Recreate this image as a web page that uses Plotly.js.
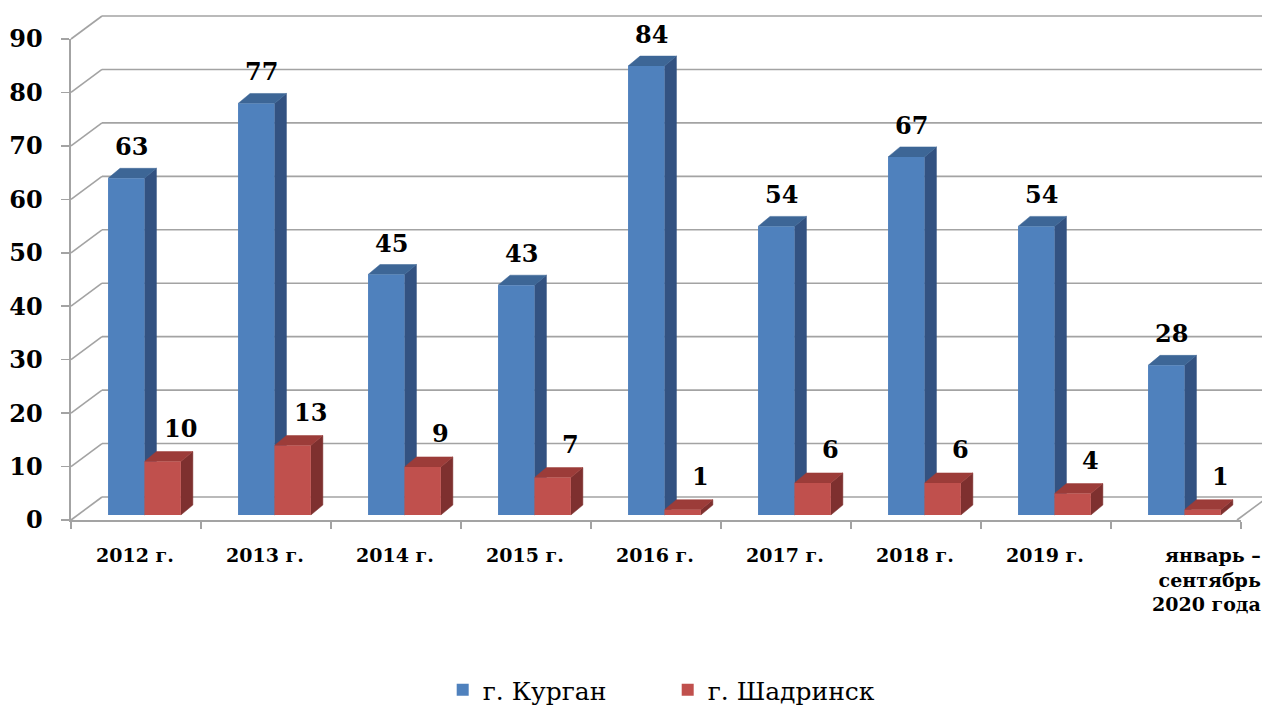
<!DOCTYPE html>
<html>
<head>
<meta charset="utf-8">
<script src="https://cdn.plot.ly/plotly-3.0.1.min.js"></script>
<style>html,body{margin:0;padding:0;background:#fff;}#chart{width:1262px;height:706px;}</style>
</head>
<body>
<div id="chart"></div>
<script>
// ---- data ----
const categories = ['2012 г.', '2013 г.', '2014 г.', '2015 г.', '2016 г.', '2017 г.', '2018 г.', '2019 г.', 'январь –<br>сентябрь<br>2020 года'];
const kurgan = [63, 77, 45, 43, 84, 54, 67, 54, 28];
const shadrinsk = [10, 13, 9, 7, 1, 6, 6, 4, 1];
const seriesNames = ['г. Курган', 'г. Шадринск'];
const yTickValues = [0, 10, 20, 30, 40, 50, 60, 70, 80, 90];

// ---- geometry / style ----
const W = 1262, H = 706;
const mL = 71, mR = 21, mT = 39, mB = 186;
const plotW = W - mL - mR, plotH = H - mT - mB;
const nCat = categories.length;
const pxPerCat = plotW / nCat;
const yMax = 90;
const pxPerUnit = plotH / yMax;

const barW = 0.28;
const blueOff = -0.215, redOff = blueOff + barW;
const barBase = 5 / pxPerUnit;          // bars sit slightly behind the front edge
const dX = 12 / pxPerCat, dY = 10 / pxPerUnit;   // bar depth
const wallDX = 31 / plotW, wallDY = 23 / plotH;  // wall depth (paper units)

const colors = {
  blue: {front: '#4F81BD', side: '#335281', top: '#3D6696'},
  red: {front: '#C0504D', side: '#7E302F', top: '#9C3C39'}
};
const gridColor = '#A3A3A3';
const serif = 'DejaVu Serif';

const xIdx = categories.map((c, i) => i);

function barTrace(vals, name, off, col) {
  return {
    type: 'bar', name: name, x: xIdx, y: vals,
    base: vals.map(() => barBase),
    offset: off, width: barW,
    marker: {color: col.front, line: {width: 0}},
    hoverinfo: 'y+name'
  };
}

const traces = [
  barTrace(kurgan, seriesNames[0], blueOff, colors.blue),
  barTrace(shadrinsk, seriesNames[1], redOff, colors.red)
];

const shapes = [];
// back wall gridlines, left wall diagonals, floor edge
yTickValues.forEach(t => {
  const yp = t / yMax;
  shapes.push({type: 'line', xref: 'paper', yref: 'paper', layer: 'below',
    x0: 0, y0: yp, x1: wallDX, y1: yp + wallDY, line: {color: gridColor, width: 1.6}});
  shapes.push({type: 'line', xref: 'paper', yref: 'paper', layer: 'below',
    x0: wallDX, y0: yp + wallDY, x1: (W - mL) / plotW, y1: yp + wallDY, line: {color: gridColor, width: 1.6}});
});
shapes.push({type: 'line', xref: 'paper', yref: 'paper', layer: 'below',
  x0: 1 - 4 / plotW, y0: 0, x1: 1 - 4 / plotW + wallDX * 0.85, y1: wallDY * 0.85, line: {color: gridColor, width: 1.6}});

// 3D side and top faces of the bars
function addFaces(vals, off, col) {
  vals.forEach((v, i) => {
    const xl = i + off, xr = i + off + barW;
    const yb = barBase, yt = barBase + v;
    shapes.push({type: 'path', xref: 'x', yref: 'y', layer: 'below',
      path: `M${xr},${yb} L${xr + dX},${yb + dY} L${xr + dX},${yt + dY} L${xr},${yt} Z`,
      fillcolor: col.side, line: {color: col.side, width: 0.5}});
    shapes.push({type: 'path', xref: 'x', yref: 'y', layer: 'below',
      path: `M${xl},${yt} L${xl + dX},${yt + dY} L${xr + dX},${yt + dY} L${xr},${yt} Z`,
      fillcolor: col.top, line: {color: col.top, width: 0.5}});
  });
}
addFaces(kurgan, blueOff, colors.blue);
addFaces(shadrinsk, redOff, colors.red);

// value labels and category labels
const annotations = [];
kurgan.forEach((v, i) => annotations.push({
  x: i - 0.035, y: barBase + v, xref: 'x', yref: 'y', text: String(v), showarrow: false,
  yanchor: 'bottom', yshift: 15, font: {family: serif, size: 24, weight: 700, color: '#000'}
}));
shadrinsk.forEach((v, i) => annotations.push({
  x: i + 0.345, y: barBase + v, xref: 'x', yref: 'y', text: String(v), showarrow: false,
  yanchor: 'bottom', yshift: 17, font: {family: serif, size: 24, weight: 700, color: '#000'}
}));
categories.forEach((c, i) => {
  const last = i === nCat - 1;
  annotations.push({
    x: last ? (W - mL + 1) / plotW : (i + 0.5) / nCat - 1 / plotW,
    y: -22 / plotH, xref: 'paper', yref: 'paper', text: c, showarrow: false,
    xanchor: last ? 'right' : 'center', align: last ? 'right' : 'center', yanchor: 'top',
    font: {family: serif, size: 19, weight: 700, color: '#000'}
  });
});

const layout = {
  width: W, height: H,
  margin: {l: mL, r: mR, t: mT, b: mB, pad: 0, autoexpand: false},
  paper_bgcolor: '#ffffff', plot_bgcolor: 'rgba(0,0,0,0)',
  font: {family: serif},
  barmode: 'overlay',
  showlegend: true,
  legend: {orientation: 'h', x: 0.51, xanchor: 'center', y: -(690 - 520) / plotH, yanchor: 'middle',
    font: {family: serif, size: 25, color: '#000'}, entrywidth: 180, itemsizing: 'constant'},
  xaxis: {range: [-0.5, nCat - 0.5], showgrid: false, zeroline: false, showline: true,
    linecolor: gridColor, linewidth: 1.6, ticks: 'outside', ticklen: 7, tickcolor: gridColor, tickwidth: 1.6,
    tick0: -0.5, dtick: 1, showticklabels: false, fixedrange: true},
  yaxis: {range: [0, yMax], tickvals: yTickValues, showgrid: false, zeroline: false, showline: true,
    linecolor: gridColor, linewidth: 1.6, ticks: 'outside', ticklen: 8, tickcolor: gridColor, tickwidth: 1.6,
    ticklabelstandoff: 14,
    tickfont: {family: serif, size: 24, weight: 700, color: '#000'}, fixedrange: true},
  shapes: shapes,
  annotations: annotations
};

Plotly.newPlot('chart', traces, layout, {displayModeBar: false, staticPlot: true});
</script>
</body>
</html>
